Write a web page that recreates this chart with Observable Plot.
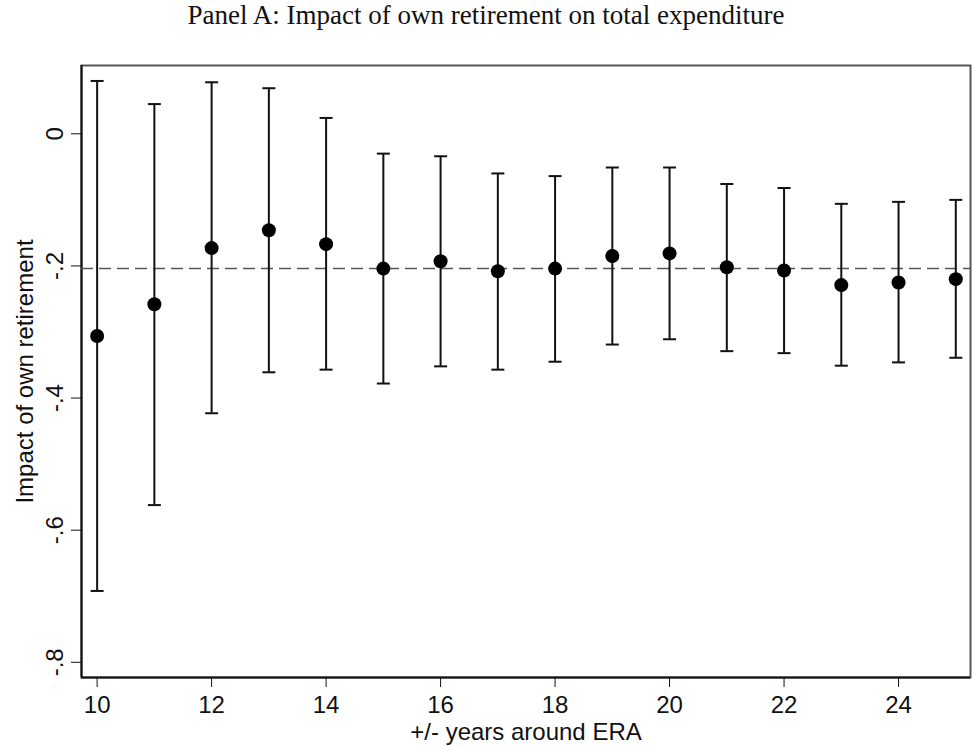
<!DOCTYPE html>
<html>
<head>
<meta charset="utf-8">
<script src="https://cdn.jsdelivr.net/npm/d3@7"></script>
<script src="https://cdn.jsdelivr.net/npm/@observablehq/plot@0.6"></script>
<style>
  html, body { margin: 0; padding: 0; background: #fff; }
  #title { height: 45px; line-height: 45px; text-align: center; font: 27px "Liberation Serif", "Times New Roman", serif; color: #111; width: 972px; }
</style>
</head>
<body>
<div id="title">Panel A: Impact of own retirement on total expenditure</div>
<div id="chart"></div>
<script>
const years = [10, 11, 12, 13, 14, 15, 16, 17, 18, 19, 20, 21, 22, 23, 24, 25];
const estimate = [-0.306, -0.258, -0.173, -0.146, -0.167, -0.204, -0.193, -0.208, -0.204, -0.185, -0.181, -0.202, -0.207, -0.229, -0.225, -0.220];
const ciLow = [-0.692, -0.562, -0.423, -0.361, -0.357, -0.378, -0.352, -0.357, -0.345, -0.319, -0.311, -0.329, -0.332, -0.351, -0.346, -0.339];
const ciHigh = [0.080, 0.045, 0.078, 0.069, 0.024, -0.030, -0.034, -0.060, -0.064, -0.051, -0.051, -0.076, -0.082, -0.106, -0.103, -0.100];
const referenceLine = -0.204;
const xTicks = [10, 12, 14, 16, 18, 20, 22, 24];
const yTicks = [0, -0.2, -0.4, -0.6, -0.8];
const yTickLabels = ["0", "-.2", "-.4", "-.6", "-.8"];
const xDomain = [9.727, 25.257];
const yDomain = [-0.823, 0.1034];

const data = years.map((y, i) => ({year: y, est: estimate[i], lo: ciLow[i], hi: ciHigh[i]}));

const capSymbol = {
  draw(context, size) {
    const w = Math.sqrt(size / Math.PI);
    context.moveTo(-w, 0);
    context.lineTo(w, 0);
  }
};

const chart = Plot.plot({
  width: 972,
  height: 701,
  marginTop: 20,
  marginLeft: 81,
  marginRight: 2,
  marginBottom: 69,
  style: {fontFamily: "'Liberation Sans', Arial, sans-serif", fontSize: "24px", color: "#111", background: "#fff"},
  x: {domain: xDomain},
  y: {domain: yDomain},
  marks: [
    Plot.frame({stroke: "#555", strokeWidth: 2}),
    Plot.ruleX([xDomain[0]], {stroke: "#111", strokeWidth: 2}),
    Plot.ruleY([yDomain[0]], {stroke: "#111", strokeWidth: 2}),
    Plot.ruleY([referenceLine], {stroke: "#555", strokeWidth: 1.5, strokeDasharray: "12,6"}),
    Plot.ruleX(data, {x: "year", y1: "lo", y2: "hi", stroke: "#111", strokeWidth: 2}),
    Plot.dot(data, {x: "year", y: "hi", r: 6.5, symbol: capSymbol, stroke: "#111", strokeWidth: 2, fill: "none"}),
    Plot.dot(data, {x: "year", y: "lo", r: 6.5, symbol: capSymbol, stroke: "#111", strokeWidth: 2, fill: "none"}),
    Plot.dot(data, {x: "year", y: "est", r: 7, fill: "#000", stroke: "none"}),
    Plot.axisX({ticks: xTicks, tickSize: 10, tickPadding: 8, tickFormat: d => String(d), fontSize: 24,
      label: "+/- years around ERA", labelAnchor: "center", labelOffset: 62, labelArrow: "none"}),
    Plot.axisY({ticks: yTicks, tickSize: 10, tickRotate: -90, tickPadding: 9, fontSize: 24,
      tickFormat: d => yTickLabels[yTicks.findIndex(t => Math.abs(t - d) < 1e-9)],
      label: "Impact of own retirement", labelAnchor: "center", labelOffset: 66, labelArrow: "none"})
  ]
});
document.getElementById("chart").appendChild(chart);
</script>
</body>
</html>
